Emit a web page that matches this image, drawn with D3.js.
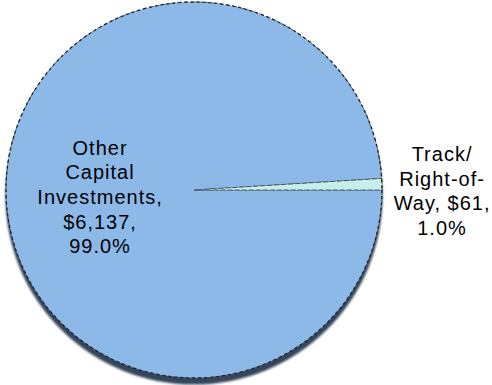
<!DOCTYPE html>
<html>
<head>
<meta charset="utf-8">
<script src="https://cdn.jsdelivr.net/npm/d3@7"></script>
<style>
  html, body { margin: 0; padding: 0; background: #ffffff; }
  svg { display: block; }
  text { font-family: "Liberation Sans", Arial, sans-serif; }
</style>
</head>
<body>
<svg id="chart" width="492" height="385"></svg>
<script>
// Capital spending split (thousands of dollars)
const categories = ["Other Capital Investments", "Track/Right-of-Way"];
const values = [6137, 61];
// Wrapped name lines for each category label
const nameLines = [["Other", "Capital", "Investments,"], ["Track/", "Right-of-", "Way,"]];
// Whether the value sits on the same line as the last name line
const valueJoined = [false, true];
const colors = ["#8db9e9", "#c7efea"];

const width = 492, height = 385;
const cx = 194, cy = 190, r = 188;

const svg = d3.select("#chart");
const defs = svg.append("defs");
defs.append("filter").attr("id", "soft")
  .attr("x", "-10%").attr("y", "-10%").attr("width", "120%").attr("height", "120%")
  .append("feGaussianBlur").attr("stdDeviation", 0.8);

const g = svg.append("g").attr("transform", `translate(${cx},${cy})`);

const total = d3.sum(values);
const data = categories.map((c, i) => ({ name: c, value: values[i], i }));

// Start at 3 o'clock and run clockwise so the small slice ends back at 3 o'clock
const pie = d3.pie().value(d => d.value).sort(null)
  .startAngle(Math.PI / 2).endAngle(Math.PI / 2 + 2 * Math.PI);
const arcs = pie(data);
const arc = d3.arc().innerRadius(0).outerRadius(r);

// Drop shadow under the disc
g.append("circle")
  .attr("cx", 0).attr("cy", 6).attr("r", r + 0.5)
  .attr("fill", "#34445a")
  .attr("filter", "url(#soft)");

g.selectAll("path.slice")
  .data(arcs)
  .join("path")
  .attr("class", "slice")
  .attr("d", arc)
  .attr("fill", d => colors[d.data.i])
  .attr("stroke", "#4a5868")
  .attr("stroke-width", 1)
  .attr("stroke-dasharray", "5,2")
  .attr("stroke-linejoin", "round");

// Dark dotted rim
g.append("circle")
  .attr("r", r)
  .attr("fill", "none")
  .attr("stroke", "#1e2630")
  .attr("stroke-width", 1.3)
  .attr("stroke-dasharray", "3,3");

const fmtMoney = d3.format(",");
const fmtPct = d3.format(".1%");

function labelLines(d) {
  const i = d.data.i;
  const names = nameLines[i].slice();
  const money = "$" + fmtMoney(d.data.value) + ",";
  const pct = fmtPct(d.data.value / total);
  if (valueJoined[i]) {
    names[names.length - 1] = names[names.length - 1] + " " + money;
    return names.concat([pct]);
  }
  return names.concat([money, pct]);
}

const lh = 24.6;
const inner = d3.arc().innerRadius(r * 0.5).outerRadius(r * 0.5);
const outer = d3.arc().innerRadius(r * 1.32).outerRadius(r * 1.32);

arcs.forEach(d => {
  const big = d.data.value / total > 0.5;
  const p = big ? inner.centroid(d) : outer.centroid(d);
  const px = p[0];
  const py = big ? p[1] + 4 : 1;
  const lines = labelLines(d);
  const t = g.append("text")
    .attr("text-anchor", "middle")
    .attr("font-size", 20)
    .attr("letter-spacing", "1px")
    .attr("fill", "#000");
  lines.forEach((s, k) => {
    t.append("tspan")
      .attr("x", px)
      .attr("y", py + (k - (lines.length - 1) / 2) * lh + 7)
      .text(s);
  });
});
</script>
</body>
</html>
